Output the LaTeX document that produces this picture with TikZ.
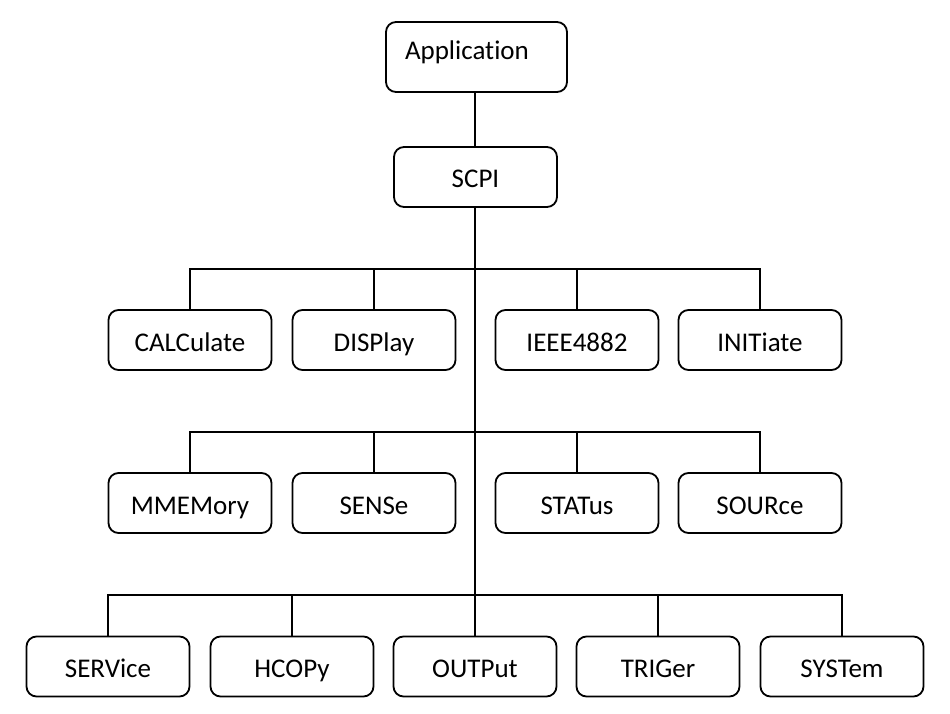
\documentclass[tikz,border=0pt]{standalone}
\usepackage{fontspec}
\setmainfont{Carlito}[Ligatures={NoCommon}]
\begin{document}
\begin{tikzpicture}[x=1pt,y=-1pt,
  box/.style={draw=black, line width=1.8pt, rounded corners=10pt, minimum width=163pt, minimum height=60pt, inner sep=0pt, text height=22pt, text depth=0pt, font=\fontsize{27}{32}\selectfont},
  conn/.style={draw=black, line width=1.8pt}]
\useasboundingbox (0,0) rectangle (950,714);
\node[box, minimum width=181pt, minimum height=70pt, text width=143pt, align=left, text height=22pt, text depth=16pt] (app) at (476.5,57) {Application};
\node[box] (scpi) at (475.5,177) {SCPI};
% row 1
\node[box] (cal) at (190,340) {CALCulate};
\node[box] (dis) at (374,340) {DISPlay};
\node[box] (iee) at (577,340) {IEEE4882};
\node[box] (ini) at (760,340) {INITiate};
% row 2
\node[box] (mme) at (190,503) {MMEMory};
\node[box] (sen) at (374,503) {SENSe};
\node[box] (sta) at (577,503) {STATus};
\node[box] (sou) at (760,503) {SOURce};
% row 3
\node[box] (ser) at (108,666.5) {SERVice};
\node[box] (hco) at (292,666.5) {HCOPy};
\node[box] (out) at (475,666.5) {OUTPut};
\node[box] (tri) at (658,666.5) {TRIGer};
\node[box] (sys) at (842,666.5) {SYSTem};
\coordinate (b1) at (475,269);
\coordinate (b2) at (475,432);
\coordinate (b3) at (475,595);
\draw[conn] (app.south -| b3) -- (b3 |- scpi.north);
\draw[conn] (scpi.south -| b3) -- (b3);
\draw[conn] (cal.north) -- (cal.north |- b1) -- (ini.north |- b1) -- (ini.north);
\draw[conn] (dis.north) -- (dis.north |- b1);
\draw[conn] (iee.north) -- (iee.north |- b1);
\draw[conn] (mme.north) -- (mme.north |- b2) -- (sou.north |- b2) -- (sou.north);
\draw[conn] (sen.north) -- (sen.north |- b2);
\draw[conn] (sta.north) -- (sta.north |- b2);
\draw[conn] (ser.north) -- (ser.north |- b3) -- (sys.north |- b3) -- (sys.north);
\draw[conn] (hco.north) -- (hco.north |- b3);
\draw[conn] (out.north) -- (out.north |- b3);
\draw[conn] (tri.north) -- (tri.north |- b3);
\end{tikzpicture}
\end{document}
